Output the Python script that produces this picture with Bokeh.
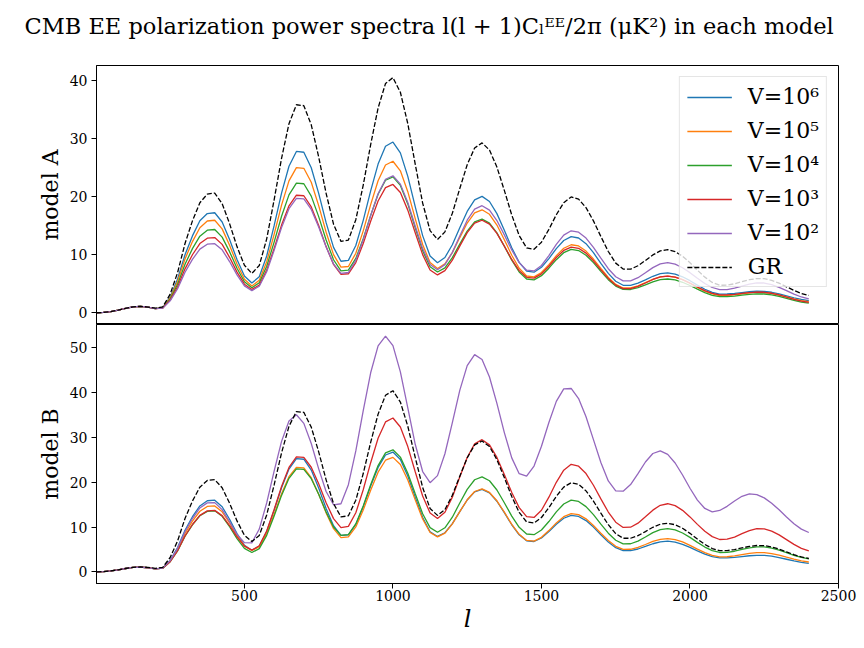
from bokeh.plotting import figure
from bokeh.models import Range1d, Legend, LegendItem, FixedTicker, Title
from bokeh.layouts import column
from bokeh.embed import file_html
from bokeh.resources import INLINE

# multipole grid
ell = [2] + list(range(25, 2401, 25))

# GR (same in both panels)
gr_cl = [0.0, 0.05, 0.2, 0.45, 0.75, 1.02, 1.1, 0.98, 0.78,
         1.0, 3.2, 6.9, 11.9, 15.8, 18.9, 20.4,
         20.57, 18.76, 15.32, 11.37, 8.16, 6.76,
         8.13, 12.7, 19.4, 26.55, 32.5, 35.75,
         35.6, 32.3, 26.78, 20.53, 15.23, 12.26,
         12.5, 16.0, 21.94, 28.9, 35.2, 39.4,
         40.42, 37.9, 32.5, 25.55, 18.85, 14.13,
         12.6, 13.9, 17.1, 21.35, 25.45, 28.32,
         29.2, 27.97, 25.04, 21.03, 16.8, 13.27, 11.15,
         10.9, 12.13, 14.33, 16.85, 18.91, 19.9,
         19.53, 18.07, 15.79, 13.1, 10.53, 8.53, 7.5,
         7.5, 8.08, 8.99, 9.94, 10.63, 10.85,
         10.52, 9.72, 8.59, 7.31, 6.12, 5.21, 4.72,
         4.74, 4.98, 5.34, 5.68, 5.88,
         5.85, 5.57, 5.08, 4.46, 3.84, 3.32, 2.98]

# model A
a_v6 = [0.0, 0.05, 0.2, 0.45, 0.75, 1.0, 1.08, 0.95, 0.7,
        0.87, 2.71, 5.79, 9.96, 13.21, 15.8, 17.05,
        17.19, 15.6, 12.59, 9.14, 6.33, 5.11,
        6.18, 9.75, 14.97, 20.56, 25.18, 27.73,
        27.59, 24.93, 20.51, 15.49, 11.24, 8.85,
        9.0, 11.55, 15.88, 20.96, 25.55, 28.61,
        29.34, 27.49, 23.45, 18.25, 13.26, 9.74,
        8.6, 9.5, 11.69, 14.61, 17.42, 19.4,
        20.0, 19.12, 17.04, 14.18, 11.17, 8.66, 7.15,
        6.97, 7.81, 9.31, 11.02, 12.42, 13.09,
        12.85, 11.87, 10.32, 8.5, 6.76, 5.41, 4.72,
        4.71, 5.08, 5.66, 6.27, 6.71, 6.85,
        6.65, 6.18, 5.51, 4.75, 4.04, 3.5, 3.21,
        3.22, 3.32, 3.47, 3.61, 3.7,
        3.67, 3.52, 3.25, 2.91, 2.57, 2.28, 2.1]
a_v5 = [0.0, 0.05, 0.2, 0.45, 0.75, 1.0, 1.08, 0.95, 0.7,
        0.85, 2.54, 5.39, 9.23, 12.23, 14.62, 15.77,
        15.9, 14.42, 11.6, 8.37, 5.75, 4.61,
        5.57, 8.78, 13.48, 18.5, 22.67, 24.95,
        24.83, 22.42, 18.41, 13.85, 9.99, 7.83,
        7.95, 10.23, 14.08, 18.59, 22.68, 25.4,
        26.04, 24.4, 20.81, 16.18, 11.74, 8.62,
        7.6, 8.4, 10.34, 12.92, 15.42, 17.16,
        17.7, 16.92, 15.08, 12.55, 9.88, 7.65, 6.32,
        6.17, 6.92, 8.27, 9.82, 11.09, 11.69,
        11.48, 10.6, 9.23, 7.62, 6.07, 4.87, 4.26,
        4.26, 4.61, 5.17, 5.75, 6.17, 6.3,
        6.12, 5.68, 5.07, 4.37, 3.72, 3.23, 2.96,
        2.97, 3.08, 3.24, 3.4, 3.49,
        3.47, 3.32, 3.05, 2.71, 2.37, 2.08, 1.9]
a_v4 = [0.0, 0.05, 0.2, 0.45, 0.75, 1.0, 1.08, 0.95, 0.7,
        0.83, 2.34, 4.89, 8.34, 11.02, 13.16, 14.19,
        14.31, 13.0, 10.5, 7.64, 5.32, 4.31,
        5.16, 7.99, 12.14, 16.59, 20.26, 22.28,
        22.17, 20.05, 16.52, 12.5, 9.11, 7.2,
        7.31, 9.33, 12.74, 16.74, 20.37, 22.78,
        23.35, 21.89, 18.71, 14.61, 10.67, 7.9,
        7.0, 7.72, 9.47, 11.8, 14.04, 15.62,
        16.1, 15.4, 13.73, 11.44, 9.02, 7.01, 5.8,
        5.66, 6.37, 7.66, 9.12, 10.32, 10.9,
        10.69, 9.89, 8.61, 7.12, 5.69, 4.58, 4.01,
        4.0, 4.31, 4.8, 5.31, 5.68, 5.8,
        5.64, 5.24, 4.68, 4.05, 3.45, 3.0, 2.76,
        2.77, 2.87, 3.02, 3.16, 3.25,
        3.22, 3.07, 2.8, 2.46, 2.12, 1.83, 1.65]
a_v3 = [0.0, 0.05, 0.2, 0.45, 0.75, 1.0, 1.08, 0.95, 0.7,
        0.81, 2.17, 4.46, 7.55, 9.97, 11.89, 12.81,
        12.92, 11.75, 9.53, 6.98, 4.91, 4.01,
        4.77, 7.33, 11.07, 15.07, 18.38, 20.2,
        20.11, 18.19, 15.0, 11.37, 8.3, 6.58,
        6.7, 8.63, 11.9, 15.73, 19.2, 21.5,
        22.05, 20.66, 17.64, 13.74, 9.99, 7.36,
        6.5, 7.24, 9.05, 11.45, 13.78, 15.4,
        15.9, 15.23, 13.64, 11.46, 9.16, 7.24, 6.09,
        5.96, 6.69, 8.0, 9.49, 10.71, 11.29,
        11.08, 10.25, 8.93, 7.38, 5.9, 4.75, 4.16,
        4.16, 4.53, 5.11, 5.72, 6.16, 6.3,
        6.12, 5.7, 5.1, 4.43, 3.8, 3.32, 3.06,
        3.07, 3.17, 3.32, 3.46, 3.55,
        3.52, 3.35, 3.06, 2.69, 2.31, 2.0, 1.8]
a_v2 = [0.0, 0.05, 0.2, 0.45, 0.75, 1.0, 1.08, 0.95, 0.7,
        0.79, 2.04, 4.13, 6.96, 9.17, 10.93, 11.78,
        11.88, 10.82, 8.8, 6.5, 4.62, 3.81,
        4.55, 7.06, 10.72, 14.63, 17.88, 19.66,
        19.57, 17.76, 14.74, 11.3, 8.4, 6.77,
        6.92, 9.01, 12.55, 16.7, 20.46, 22.95,
        23.55, 22.11, 18.97, 14.92, 11.03, 8.29,
        7.4, 8.27, 10.38, 13.2, 15.91, 17.82,
        18.4, 17.64, 15.85, 13.38, 10.78, 8.61, 7.31,
        7.18, 8.12, 9.82, 11.76, 13.34, 14.09,
        13.84, 12.83, 11.24, 9.37, 7.57, 6.18, 5.47,
        5.49, 6.03, 6.87, 7.76, 8.4, 8.6,
        8.35, 7.74, 6.89, 5.93, 5.02, 4.34, 3.96,
        3.99, 4.23, 4.59, 4.93, 5.14,
        5.11, 4.84, 4.37, 3.79, 3.21, 2.71, 2.4]

# model B
b_v6 = [0.0, 0.05, 0.2, 0.45, 0.75, 1.0, 1.05, 0.92, 0.65,
        0.85, 2.56, 5.42, 9.29, 12.31, 14.71, 15.87,
        16.0, 14.53, 11.74, 8.54, 5.94, 4.81,
        5.77, 9.0, 13.72, 18.77, 22.95, 25.25,
        25.13, 22.72, 18.71, 14.15, 10.29, 8.13,
        8.26, 10.58, 14.52, 19.13, 23.3, 26.08,
        26.74, 25.06, 21.39, 16.67, 12.13, 8.94,
        7.9, 8.73, 10.75, 13.43, 16.03, 17.84,
        18.4, 17.62, 15.76, 13.21, 10.51, 8.27, 6.92,
        6.77, 7.56, 8.99, 10.62, 11.96, 12.59,
        12.36, 11.44, 9.99, 8.29, 6.66, 5.39, 4.74,
        4.74, 5.1, 5.67, 6.27, 6.7, 6.84,
        6.64, 6.15, 5.46, 4.69, 3.96, 3.41, 3.11,
        3.12, 3.24, 3.42, 3.59, 3.69,
        3.67, 3.49, 3.19, 2.81, 2.43, 2.11, 1.9]
b_v5 = [0.0, 0.05, 0.2, 0.45, 0.75, 1.0, 1.05, 0.92, 0.65,
        0.83, 2.39, 5.02, 8.56, 11.33, 13.52, 14.59,
        14.71, 13.4, 10.92, 8.08, 5.77, 4.76,
        5.63, 8.57, 12.85, 17.44, 21.24, 23.32,
        23.21, 21.0, 17.33, 13.16, 9.63, 7.65,
        7.79, 10.02, 13.8, 18.23, 22.24, 24.91,
        25.55, 23.96, 20.51, 16.06, 11.79, 8.78,
        7.8, 8.65, 10.7, 13.44, 16.08, 17.93,
        18.5, 17.72, 15.86, 13.31, 10.61, 8.37, 7.02,
        6.87, 7.71, 9.21, 10.92, 12.32, 12.99,
        12.76, 11.83, 10.36, 8.63, 6.98, 5.69, 5.03,
        5.04, 5.45, 6.1, 6.78, 7.27, 7.43,
        7.21, 6.68, 5.92, 5.08, 4.28, 3.68, 3.35,
        3.37, 3.56, 3.85, 4.12, 4.29,
        4.27, 4.06, 3.71, 3.26, 2.82, 2.44, 2.2]
b_v4 = [0.0, 0.05, 0.2, 0.45, 0.75, 1.0, 1.05, 0.92, 0.65,
        0.82, 2.26, 4.67, 7.94, 10.5, 12.52, 13.5,
        13.62, 12.39, 10.07, 7.41, 5.25, 4.31,
        5.19, 8.14, 12.45, 17.06, 20.88, 22.97,
        22.88, 20.79, 17.31, 13.36, 10.02, 8.15,
        8.32, 10.7, 14.72, 19.44, 23.72, 26.56,
        27.24, 25.6, 22.02, 17.41, 12.98, 9.86,
        8.85, 9.83, 12.2, 15.36, 18.41, 20.55,
        21.2, 20.33, 18.26, 15.43, 12.44, 9.94, 8.45,
        8.29, 9.34, 11.23, 13.39, 15.15, 15.99,
        15.71, 14.56, 12.77, 10.65, 8.63, 7.05, 6.25,
        6.27, 6.85, 7.78, 8.74, 9.44, 9.66,
        9.37, 8.67, 7.69, 6.58, 5.53, 4.74, 4.32,
        4.35, 4.6, 4.99, 5.36, 5.59,
        5.56, 5.29, 4.84, 4.27, 3.69, 3.21, 2.9]
b_v3 = [0.0, 0.05, 0.2, 0.45, 0.75, 1.0, 1.05, 0.92, 0.65,
        0.82, 2.27, 4.71, 8.0, 10.57, 12.61, 13.6,
        13.72, 12.55, 10.34, 7.8, 5.74, 4.84,
        5.82, 9.11, 13.91, 19.05, 23.31, 25.65,
        25.56, 23.34, 19.64, 15.43, 11.88, 9.88,
        10.14, 13.18, 18.33, 24.36, 29.82, 33.46,
        34.33, 32.33, 27.96, 22.34, 16.94, 13.14,
        11.9, 13.29, 16.67, 21.18, 25.52, 28.57,
        29.5, 28.33, 25.54, 21.73, 17.7, 14.34, 12.33,
        12.14, 13.75, 16.66, 19.98, 22.69, 23.99,
        23.57, 21.93, 19.33, 16.28, 13.35, 11.08, 9.91,
        9.96, 10.86, 12.28, 13.77, 14.86, 15.2,
        14.77, 13.73, 12.26, 10.6, 9.04, 7.86, 7.22,
        7.29, 7.77, 8.51, 9.2, 9.64,
        9.58, 9.09, 8.26, 7.2, 6.14, 5.25, 4.68]
b_v2 = [0.0, 0.05, 0.2, 0.45, 0.75, 1.0, 1.05, 0.92, 0.65,
        0.83, 2.5, 5.25, 9.0, 11.9, 14.25, 15.4,
        15.45, 13.89, 11.18, 8.36, 6.5,
        6.46, 9.55, 15.39, 22.47, 29.12, 33.68,
        35.05, 33.13, 28.64, 22.99, 17.94, 14.97,
        15.2, 19.46, 26.99, 35.99, 44.43, 50.43, 52.6,
        50.47, 44.62, 36.58, 28.47, 22.39, 19.9,
        21.47, 26.36, 33.31, 40.49, 46.01, 48.48,
        47.4, 43.48, 37.6, 31.08, 25.43, 21.91,
        21.34, 23.62, 28.02, 33.32, 38.04, 40.82,
        40.92, 38.67, 34.6, 29.5, 24.4, 20.3, 18.08,
        18.01, 19.48, 21.92, 24.52, 26.41, 27.0,
        26.2, 24.29, 21.61, 18.66, 16.01, 14.15, 13.4,
        13.7, 14.62, 15.81, 16.86, 17.39,
        17.23, 16.51, 15.33, 13.84, 12.23, 10.73, 9.53, 8.78]

series_labels = ["V=10\u2076", "V=10\u2075", "V=10\u2074", "V=10\u00b3", "V=10\u00b2"]
series_colors = ["#1f77b4", "#ff7f0e", "#2ca02c", "#d62728", "#9467bd"]
gr_label = "GR"
panel_labels = ["model A", "model B"]
x_ticks = [500, 1000, 1500, 2000, 2500]
a_yticks = [0, 10, 20, 30, 40]
b_yticks = [0, 10, 20, 30, 40, 50]
title_text = ("CMB EE polarization power spectra "
              "l(l + 1)C\u2097\u1d31\u1d31/2\u03c0 (\u03bcK\u00b2) in each model")

SERIF = "DejaVu Serif"
W = 860
LEFT = 96
RIGHT = 22
FRAME_H = 259
TOP = 65
BOTTOM = 57

x_range = Range1d(2, 2500)


def make_panel(height, yr, yticks, ylabel, btop, bbottom, show_x):
    p = figure(width=W, height=height, x_range=x_range, y_range=yr,
               toolbar_location=None, output_backend="svg",
               x_axis_location="below" if show_x else None,
               min_border_left=LEFT, min_border_right=RIGHT,
               min_border_top=btop, min_border_bottom=bbottom)
    p.grid.visible = False
    p.outline_line_color = "black"
    p.outline_line_width = 1
    p.background_fill_color = "white"
    p.border_fill_color = "white"
    ya = p.yaxis[0]
    ya.ticker = FixedTicker(ticks=yticks)
    ya.axis_label = ylabel
    ya.axis_label_text_font = SERIF
    ya.axis_label_text_font_size = "22px"
    ya.axis_label_text_font_style = "normal"
    ya.axis_label_text_color = "black"
    ya.axis_label_standoff = 4
    ya.major_label_text_font = SERIF
    ya.major_label_text_font_size = "14px"
    ya.major_label_text_color = "black"
    ya.major_label_standoff = 4
    ya.major_tick_out = 5
    ya.major_tick_in = 0
    ya.major_tick_line_color = "black"
    ya.minor_tick_line_color = None
    ya.axis_line_color = "black"
    if show_x:
        xa = p.xaxis[0]
        xa.ticker = FixedTicker(ticks=x_ticks)
        xa.axis_label = "l"
        xa.axis_label_text_font = SERIF
        xa.axis_label_text_font_size = "24px"
        xa.axis_label_text_font_style = "italic"
        xa.axis_label_text_color = "black"
        xa.axis_label_standoff = 1
        xa.major_label_text_font = SERIF
        xa.major_label_text_font_size = "14px"
        xa.major_label_text_color = "black"
        xa.major_label_standoff = 1
        xa.major_tick_out = 5
        xa.major_tick_in = 0
        xa.major_tick_line_color = "black"
        xa.minor_tick_line_color = None
        xa.axis_line_color = "black"
    return p


p_a = make_panel(TOP + FRAME_H, Range1d(-2.02, 42.5), a_yticks, panel_labels[0], TOP, 0, False)
p_b = make_panel(FRAME_H + BOTTOM, Range1d(-2.6, 55.2), b_yticks, panel_labels[1], 0, BOTTOM, True)

# blank spacer between frame and title (keeps the title near the top edge)
p_a.add_layout(Title(text=" ", text_font=SERIF, text_font_size="1px", standoff=23), "above")
p_a.title = Title(text=title_text, text_font=SERIF, text_font_size="22.5px",
                  text_font_style="normal", text_color="black",
                  align="left", offset=24 - LEFT, standoff=2,
                  vertical_align="bottom")

items = []
for p, data in ((p_a, [a_v6, a_v5, a_v4, a_v3, a_v2]), (p_b, [b_v6, b_v5, b_v4, b_v3, b_v2])):
    rs = []
    for ys, c in zip(data, series_colors):
        rs.append(p.line(ell, ys, line_color=c, line_width=1.3))
    rg = p.line(ell, gr_cl, line_color="black", line_width=1.3, line_dash="5 2")
    rs.append(rg)
    if p is p_a:
        for lab, r in zip(series_labels + [gr_label], rs):
            items.append(LegendItem(label=lab, renderers=[r]))

legend = Legend(items=items, location="top_right",
                label_text_font=SERIF, label_text_font_size="22px",
                label_text_color="black",
                glyph_width=45, glyph_height=24, label_height=24,
                label_standoff=16, spacing=9, padding=7, margin=11,
                border_line_color="#cccccc", border_line_width=1,
                background_fill_color="white", background_fill_alpha=0.8)
p_a.add_layout(legend)

layout = column(p_a, p_b, spacing=0)
open("out.html", "w").write(file_html(layout, INLINE))
